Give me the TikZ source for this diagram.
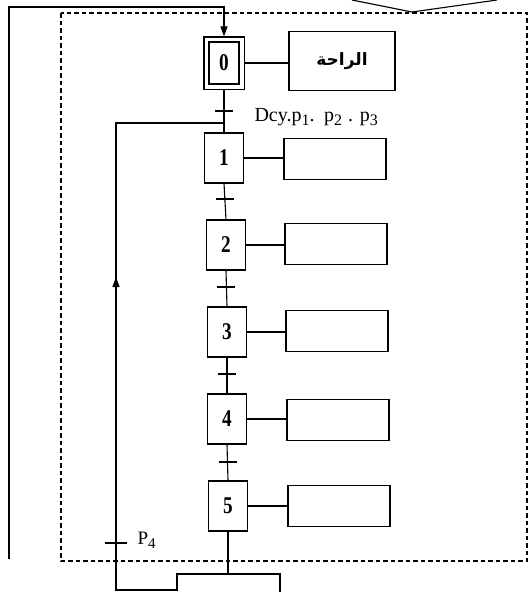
\documentclass[tikz,border=0pt]{standalone}
\usepackage{fontspec}
\setmainfont{Liberation Serif}
\newfontfamily\arabicfont[Script=Arabic]{DejaVu Sans}
\TeXXeTstate=1
\usetikzlibrary{arrows.meta,fit}
\newcommand{\stepnum}[1]{\scalebox{0.8}[1]{\fontsize{24}{24}\selectfont\bfseries #1}}
\newcommand{\lowsub}[1]{\raisebox{-4pt}{\fontsize{16}{16}\selectfont #1}}
\begin{document}
\begin{tikzpicture}[x=1pt,y=-1pt,
  line width=1.1pt,
  stepbox/.style={draw, minimum width=39pt, minimum height=50pt, inner sep=0pt},
  actbox/.style={draw, minimum width=102pt, minimum height=41pt, inner sep=0pt},
  tick/.style={line width=1.1pt},
  tip/.style={-{Triangle[length=10pt,width=7pt]}}]
\useasboundingbox (0,0) rectangle (532,592);
% dashed frame
\draw[dash pattern=on 4.5pt off 3pt, line width=1.1pt] (61,13) rectangle (527,561);
% V at top right
\coordinate (va) at (352,0);
\coordinate (vb) at (412,12);
\coordinate (vc) at (497,0);
\draw (va) -- (vb) -- (vc);
% steps
\node[stepbox, minimum width=30pt, minimum height=42pt] (s0) at (224,63) {\stepnum{0}};
\node[draw, fit=(s0), inner sep=4.5pt] (s0o) {};
\node[stepbox] (s1) at (224,158) {\stepnum{1}};
\node[stepbox] (s2) at (226,245) {\stepnum{2}};
\node[stepbox] (s3) at (227,332) {\stepnum{3}};
\node[stepbox] (s4) at (227,419) {\stepnum{4}};
\node[stepbox] (s5) at (228,506) {\stepnum{5}};
% actions
\node[actbox, minimum width=106pt, minimum height=59pt] (a0) at (342,61) {\arabicfont\bfseries\fontsize{17}{17}\selectfont\beginR الراحة\endR};
\node[actbox] (a1) at (335,159) {};
\node[actbox] (a2) at (336,244) {};
\node[actbox] (a3) at (337,331) {};
\node[actbox] (a4) at (338,420) {};
\node[actbox] (a5) at (339,506) {};
\foreach \i in {1,...,5} {\draw (s\i.east) -- (s\i.east -| a\i.west);}
\draw (s0o.east) -- (s0o.east -| a0.west);
% chain
\draw (s0o.south) -- (s1.north);
\draw (s1.south) -- (s2.north);
\draw (s2.south) -- (s3.north);
\draw (s3.south) -- (s4.north);
\draw (s4.south) -- (s5.north);
% transitions
\coordinate (t0) at (224,111);
\coordinate (t1) at (225,199);
\coordinate (t2) at (226,287);
\coordinate (t3) at (227,374);
\coordinate (t4) at (228,462);
\foreach \t in {t0,t1,t2,t3,t4} {\draw[tick] (\t) ++(-9,0) -- ++(18,0);}
\node[anchor=west, inner sep=0pt, font=\fontsize{20}{20}\selectfont] (dcy) at (254,117) {Dcy.p\lowsub{1}.\hspace{3pt} p\lowsub{2}\hspace{1pt} . p\lowsub{3}};
% feedback loop
\coordinate (fb) at (224,123);
\coordinate (fl) at (116,123);
\coordinate (bl) at (116,590);
\coordinate (b1) at (177,590);
\coordinate (b2) at (177,574);
\coordinate (b5) at (228,574);
\coordinate (b3) at (280,574);
\coordinate (b4) at (280,592);
\draw (fb) -- (fl) -- (bl) -- (b1) -- (b2) -- (b3) -- (b4);
\draw (s5.south) -- (b5);
\coordinate (ar1) at (116,300);
\coordinate (ar2) at (116,277);
\draw[tip] (ar1) -- (ar2);
% P4
\coordinate (p4) at (116,543);
\draw[tick] (p4) ++(-11,0) -- ++(22,0);
\node[anchor=west, inner sep=0pt, font=\fontsize{19}{19}\selectfont] (p4l) at (137,540) {P\raisebox{-4pt}{\fontsize{15}{15}\selectfont 4}};
% outer return loop
\coordinate (o1) at (9,559);
\coordinate (o2) at (9,7);
\coordinate (o3) at (224,7);
\draw[tip] (o1) -- (o2) -- (o3) -- (s0o.north);
\end{tikzpicture}
\end{document}
